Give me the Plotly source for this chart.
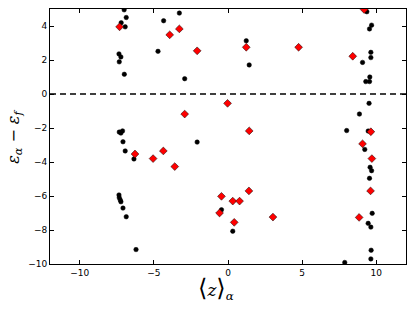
import plotly.graph_objects as go

# Black dot states
black_x = [-7.0, -6.86, -7.2, -6.93, -7.35, -7.22, -7.33, -6.99, -4.34, -4.72, -3.28, -2.92,
           -7.33, -7.22, -7.11, -7.08, -6.93, -6.34, -2.08,
           -7.35, -7.33, -7.26, -7.22, -7.08, -6.86, -6.2,
           9.36, 9.68, 9.54, 1.23, 1.43, 9.63, 9.63, 9.07, 9.56, 9.29, 9.54,
           9.51, 8.86, 8.0, 9.45, 9.22, 9.58, 9.68, 9.54, 9.72, 9.45, 9.63, 9.65, 9.63, 7.87,
           -0.44, 0.32]
black_y = [4.95, 4.50, 4.19, 3.95, 2.36, 2.18, 1.89, 1.16, 4.31, 2.51, 4.76, 0.90,
           -2.24, -2.30, -2.17, -2.81, -3.35, -3.82, -2.83,
           -5.94, -6.10, -6.24, -6.34, -6.71, -7.22, -9.15,
           4.84, 4.05, 3.83, 3.13, 1.71, 2.45, 2.14, 1.86, 1.00, 0.73, 0.73,
           -0.55, -1.18, -2.15, -2.18, -3.26, -4.31, -4.51, -4.96, -7.02, -7.61, -7.83, -9.19, -9.70, -9.91,
           -6.81, -8.07]

# Red diamond states
red_x = [-7.31, -3.93, -3.28, -2.08, -2.92, -6.27, -5.05, -4.36, -3.59,
         9.18, 1.23, 4.76, 8.41, -0.03, 1.43, 9.63, 9.07, 9.70, 9.61, 8.84,
         -0.44, 0.32, 0.78, 1.41, -0.57, 0.42, 3.03]
red_y = [3.95, 3.48, 3.83, 2.54, -1.18, -3.53, -3.80, -3.35, -4.27,
         4.97, 2.75, 2.75, 2.22, -0.55, -2.17, -2.22, -2.93, -3.80, -5.70, -7.26,
         -6.02, -6.30, -6.30, -5.70, -7.00, -7.55, -7.24]

x_ticks = [-10, -5, 0, 5, 10]
y_ticks = [-10, -8, -6, -4, -2, 0, 2, 4]
x_range = [-12, 12]
y_range = [-10, 5]
fermi = [0, 0]

fig = go.Figure()
fig.add_trace(go.Scatter(x=x_range, y=fermi, mode="lines",
                         line=dict(color="black", width=1.6, dash="6px,4px"),
                         hoverinfo="skip", showlegend=False))
fig.add_trace(go.Scatter(x=black_x, y=black_y, mode="markers",
                         marker=dict(symbol="circle", size=4.5, color="black",
                                     line=dict(color="black", width=0.5)),
                         showlegend=False, cliponaxis=True))
fig.add_trace(go.Scatter(x=red_x, y=red_y, mode="markers",
                         marker=dict(symbol="diamond", size=6, color="#ff0000",
                                     line=dict(color="black", width=0.5)),
                         showlegend=False, cliponaxis=True))

axis_common = dict(showline=True, linecolor="black", linewidth=1, mirror="ticks",
                   ticks="inside", ticklen=4, tickcolor="black", showgrid=False,
                   zeroline=False, tickfont=dict(family="DejaVu Sans", size=9, color="black"))

fig.update_layout(
    width=415, height=312,
    margin=dict(l=50, r=9, t=9, b=48),
    paper_bgcolor="white", plot_bgcolor="white",
    xaxis=dict(range=x_range, tickvals=x_ticks,
               ticktext=[str(v).replace("-", "\u2212") for v in x_ticks], **axis_common),
    yaxis=dict(range=y_range, tickvals=y_ticks,
               ticktext=[str(v).replace("-", "\u2212") for v in y_ticks], **axis_common),
)

fig.add_annotation(text="<span style='font-size:24px'>\u27e8</span><i>z</i>"
                        "<span style='font-size:24px'>\u27e9</span><sub><i>\u03b1</i></sub>",
                   xref="paper", yref="paper",
                   x=0.466, y=-0.03, xanchor="center", yanchor="top", showarrow=False,
                   font=dict(family="DejaVu Serif", size=17, color="black"))
fig.add_annotation(text="<i>\u03b5</i><sub><i>\u03b1</i></sub> \u2212 <i>\u03b5</i><sub><i>f</i></sub>",
                   xref="paper", yref="paper", x=-0.065, y=0.5, xanchor="right", yanchor="middle",
                   textangle=-90, showarrow=False,
                   font=dict(family="DejaVu Serif", size=16, color="black"))

fig.write_html("out.html", config={"displayModeBar": False},
               post_script="document.body.style.margin='0';document.body.style.overflow='hidden';")
